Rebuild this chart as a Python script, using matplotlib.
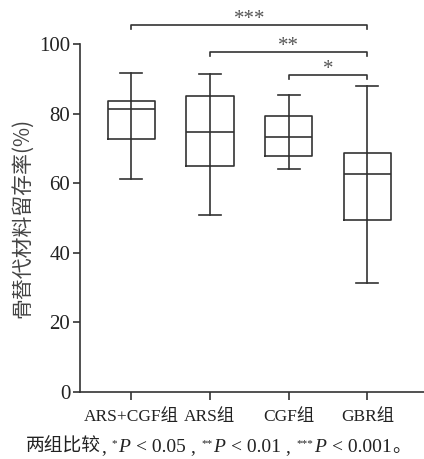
import matplotlib
matplotlib.use('Agg')
import matplotlib.pyplot as plt
from matplotlib.transforms import IdentityTransform

# Data
groups = ['ARS+CGF组', 'ARS组', 'CGF组', 'GBR组']
whislo = [61.3, 50.8, 64.1, 31.2]
q1 = [72.7, 64.9, 67.9, 49.4]
med = [81.3, 74.6, 73.4, 62.6]
q3 = [83.5, 85.2, 79.2, 68.6]
whishi = [91.8, 91.5, 85.4, 87.9]

# significance brackets: (from group, to group, bracket level, label)
sig_pairs = [(1, 4, 105.4, '***'), (2, 4, 97.7, '**'), (3, 4, 91.2, '*')]

serif = 'Liberation Serif'
cjk = 'Noto Sans CJK SC'
line_col = '#333333'

fig = plt.figure(figsize=(4.24, 4.59), dpi=100)
ax = fig.add_axes([80/424, 1-392/459, 344/424, 348/459])

stats = []
for i in range(len(groups)):
    stats.append(dict(whislo=whislo[i], q1=q1[i], med=med[i], q3=q3[i],
                      whishi=whishi[i], fliers=[]))

lw = 1.2
ax.bxp(stats, positions=[1, 2, 3, 4], widths=0.6, showfliers=False,
       boxprops=dict(color=line_col, linewidth=lw),
       medianprops=dict(color=line_col, linewidth=lw),
       whiskerprops=dict(color=line_col, linewidth=lw),
       capprops=dict(color=line_col, linewidth=lw),
       capwidths=0.28)

# whiskers run through the box in the reference
for i in range(len(groups)):
    ax.plot([i + 1, i + 1], [q1[i], q3[i]], color=line_col, lw=lw)

ax.set_xlim(0.35, 4.72)
ax.set_ylim(0, 100)
ax.set_yticks([0, 20, 40, 60, 80, 100])
ax.set_xticks([1, 2, 3, 4])
ax.set_xticklabels(groups)
for lab in ax.get_yticklabels():
    lab.set_fontfamily(serif)
    lab.set_fontsize(15)
for lab in ax.get_xticklabels():
    lab.set_fontfamily([serif, cjk])
    lab.set_fontsize(12.5)

ax.spines['top'].set_visible(False)
ax.spines['right'].set_visible(False)
for s in ['left', 'bottom']:
    ax.spines[s].set_color(line_col)
    ax.spines[s].set_linewidth(lw)
ax.tick_params(axis='y', length=5, width=lw, color=line_col, pad=2, labelcolor='#222222')
ax.tick_params(axis='x', length=6, width=lw, color=line_col, pad=6, labelcolor='#222222')

ax.set_ylabel('骨替代材料留存率(%)', fontfamily=[cjk], fontsize=15,
              color='#444444', labelpad=4)

# brackets
for a, b, y, lab in sig_pairs:
    ax.plot([a, a, b, b], [y - 1.2, y, y, y - 1.2], color=line_col, lw=lw,
            clip_on=False)
    ax.text((a + b) / 2, y + 0.3, lab, ha='center', va='baseline',
            fontsize=15, fontfamily=serif, color='#555555', clip_on=False)

# footnote, built piece by piece
fig.canvas.draw()
renderer = fig.canvas.get_renderer()
pieces = [
    ('两组比较', cjk, 'normal', 13.5, 0, 0),
    (',', serif, 'normal', 14, 0, -1),
    ('*', serif, 'normal', 8, 6, 5),
    ('P', serif, 'italic', 14, 0, 0),
    ('< 0.05', serif, 'normal', 14, 0, 5),
    (',', serif, 'normal', 14, 0, 3),
    ('**', serif, 'normal', 8, 6, 5),
    ('P', serif, 'italic', 14, 0, 0),
    ('< 0.01', serif, 'normal', 14, 0, 5),
    (',', serif, 'normal', 14, 0, 3),
    ('***', serif, 'normal', 8, 6, 5),
    ('P', serif, 'italic', 14, 0, 0),
    ('< 0.001', serif, 'normal', 14, 0, 5),
    ('。', cjk, 'normal', 13.5, 0, 0),
]
x_px = 26
base_y = 459 - 452
for txt, fam, style, size, rise, gap in pieces:
    x_px += gap
    t = fig.text(x_px, base_y + rise, txt, transform=IdentityTransform(),
                 fontfamily=fam, fontstyle=style, fontsize=size,
                 color='#222222', ha='left', va='baseline')
    bb = t.get_window_extent(renderer)
    x_px = bb.x1 + 1

fig.savefig('out.png', dpi=100, facecolor='white')
